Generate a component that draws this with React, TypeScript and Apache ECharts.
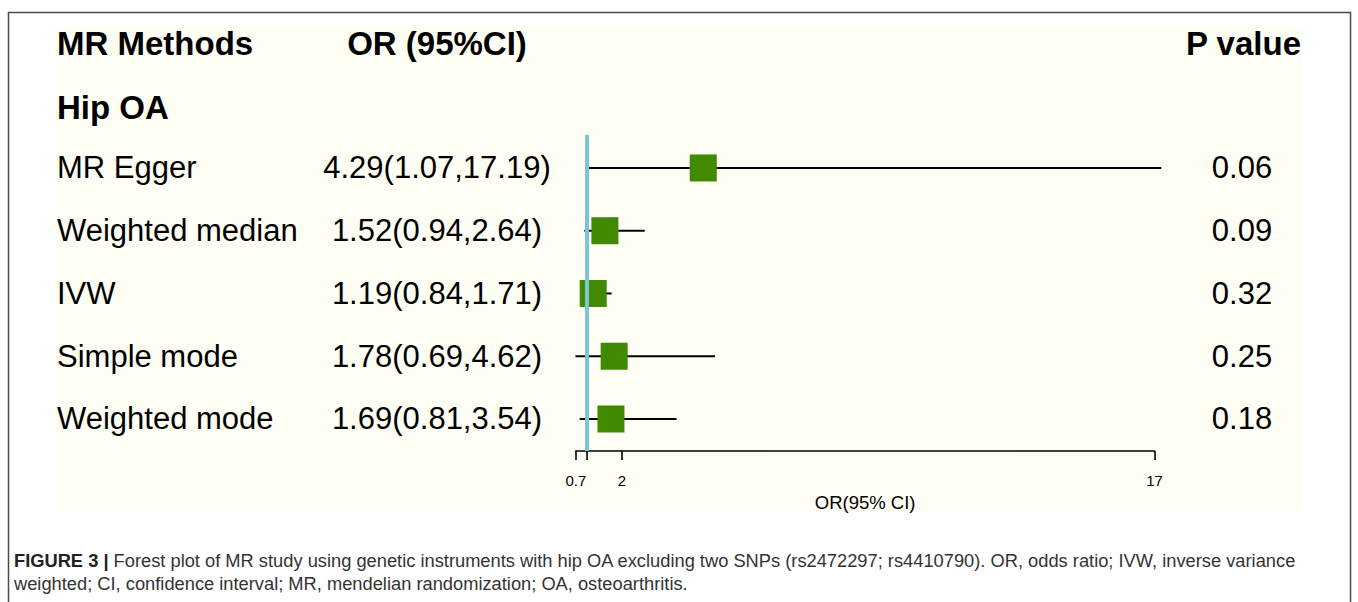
import React, { useEffect, useRef } from "react";
import * as echarts from "echarts";

const methods = ["MR Egger", "Weighted median", "IVW", "Simple mode", "Weighted mode"];
const orValues = [4.29, 1.52, 1.19, 1.78, 1.69];
const ciLower = [1.07, 0.94, 0.84, 0.69, 0.81];
const ciUpper = [17.19, 2.64, 1.71, 4.62, 3.54];
const pValues = ["0.06", "0.09", "0.32", "0.25", "0.18"];
const xTicks = [0.7, 1, 2, 17];
const xTickLabels = [0.7, 2, 17];
const refValue = 1;
const groupLabel = "Hip OA";
const headers = ["MR Methods", "OR (95%CI)", "P value"];
const axisTitle = "OR(95% CI)";
const captionBold = "FIGURE 3 |";
const captionLine1 =
  " Forest plot of MR study using genetic instruments with hip OA excluding two SNPs (rs2472297; rs4410790). OR, odds ratio; IVW, inverse variance";
const captionLine2 = "weighted; CI, confidence interval; MR, mendelian randomization; OA, osteoarthritis.";

const FONT = "'Liberation Sans', Arial, Helvetica, sans-serif";
const fmt = (v: number) => v.toFixed(2);

export default function App() {
  const ref = useRef<HTMLDivElement>(null);
  useEffect(() => {
    if (!ref.current) return;
    const chart = echarts.init(ref.current, undefined, { renderer: "svg" });
    const rows = methods.map((m, i) => [i]);
    const option: any = {
      animation: false,
      backgroundColor: "#ffffff",
      textStyle: { fontFamily: FONT },
      grid: { left: 575.8, right: 203.5, top: 135, bottom: 151, containLabel: false },
      xAxis: {
        type: "value",
        min: 0.7,
        max: 17,
        splitLine: { show: false },
        axisLine: { show: true, onZero: false, lineStyle: { color: "#000", width: 1.6 } },
        axisTick: { show: true, inside: false, length: 9, customValues: xTicks, lineStyle: { color: "#000", width: 1.6 } },
        axisLabel: { show: true, customValues: xTickLabels, fontSize: 15, color: "#000", margin: 22, fontFamily: FONT },
        name: axisTitle,
        nameLocation: "middle",
        nameGap: 41.5,
        nameTextStyle: { fontSize: 18.5, color: "#000", fontFamily: FONT },
      },
      yAxis: { type: "value", min: -0.525, max: 4.51, inverse: true, show: false },
      series: [
        {
          type: "scatter",
          data: [],
          silent: true,
          z: 1,
          markLine: {
            silent: true,
            symbol: ["none", "none"],
            label: { show: false },
            lineStyle: { color: "#7CC6D4", width: 4, type: "solid" },
            data: [{ xAxis: refValue }],
          },
        },
        {
          type: "custom",
          z: 2,
          silent: true,
          data: methods.map((m, i) => [ciLower[i], ciUpper[i], i]),
          encode: { x: [0, 1], y: 2 },
          renderItem: (params: any, api: any) => {
            const s = api.coord([api.value(0), api.value(2)]);
            const e = api.coord([api.value(1), api.value(2)]);
            return {
              type: "line",
              shape: { x1: s[0], y1: s[1], x2: e[0], y2: e[1] },
              style: { stroke: "#000", lineWidth: 2 },
            };
          },
        },
        {
          type: "scatter",
          z: 3,
          silent: true,
          symbol: "rect",
          symbolSize: 27,
          itemStyle: { color: "#418A00", opacity: 1 },
          data: methods.map((m, i) => [orValues[i], i]),
        },
        {
          type: "custom",
          z: 4,
          silent: true,
          clip: false,
          data: rows,
          encode: { y: 0 },
          renderItem: (params: any, api: any) => {
            const i = api.value(0);
            const y = api.coord([1, i])[1];
            const base = { fontSize: 31, fontFamily: FONT, fill: "#000", verticalAlign: "middle" };
            return {
              type: "group",
              children: [
                { type: "text", x: 57, y, style: { ...base, text: methods[i], align: "left" } },
                {
                  type: "text",
                  x: 437,
                  y,
                  style: { ...base, text: `${fmt(orValues[i])}(${fmt(ciLower[i])},${fmt(ciUpper[i])})`, align: "center" },
                },
                { type: "text", x: 1242, y, style: { ...base, text: pValues[i], align: "center" } },
              ],
            };
          },
        },
      ],
      graphic: [
        { type: "rect", z: -10, shape: { x: 8.5, y: 12.5, width: 1342, height: 700 }, style: { fill: "#fff", stroke: "#4a4a4a", lineWidth: 1.5 } },
        { type: "rect", z: -9, shape: { x: 55, y: 28, width: 1247, height: 482.5 }, style: { fill: "#FEFEF4" } },
        { type: "text", x: 57, y: 43, style: { text: headers[0], fontSize: 33, fontWeight: "bold", fontFamily: FONT, fill: "#000", verticalAlign: "middle", align: "left" } },
        { type: "text", x: 437, y: 43, style: { text: headers[1], fontSize: 33, fontWeight: "bold", fontFamily: FONT, fill: "#000", verticalAlign: "middle", align: "center" } },
        { type: "text", x: 1301, y: 43, style: { text: headers[2], fontSize: 33, fontWeight: "bold", fontFamily: FONT, fill: "#000", verticalAlign: "middle", align: "right" } },
        { type: "text", x: 57, y: 107, style: { text: groupLabel, fontSize: 33, fontWeight: "bold", fontFamily: FONT, fill: "#000", verticalAlign: "middle", align: "left" } },
        {
          type: "text",
          x: 14,
          y: 560,
          style: {
            text: `{b|${captionBold}}{n|${captionLine1}}`,
            verticalAlign: "middle",
            rich: {
              b: { fontSize: 18.3, fontWeight: "bold", fontFamily: FONT, fill: "#222" },
              n: { fontSize: 18.3, fontFamily: FONT, fill: "#333" },
            },
          },
        },
        { type: "text", x: 14, y: 583, style: { text: captionLine2, fontSize: 18.3, fontFamily: FONT, fill: "#333", verticalAlign: "middle" } },
      ],
    };
    chart.setOption(option);
    return () => chart.dispose();
  }, []);
  return <div ref={ref} style={{ position: "absolute", left: 0, top: 0, width: 1358, height: 602 }} />;
}
